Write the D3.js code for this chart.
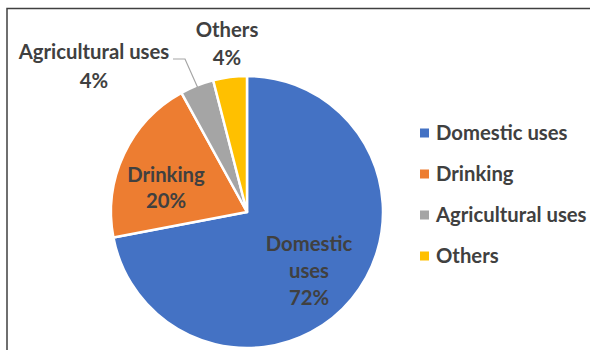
<!DOCTYPE html>
<html>
<head>
<meta charset="utf-8">
<script src="https://cdn.jsdelivr.net/npm/d3@7"></script>
<style>
  html, body { margin: 0; padding: 0; background: #fff; }
  svg { display: block; }
  text { font-family: Lato, "Open Sans", sans-serif; font-weight: 700; fill: #404040; }
</style>
</head>
<body>
<svg id="chart" width="590" height="350"></svg>
<script>
// Water use shares
const categories = ["Domestic uses", "Drinking", "Agricultural uses", "Others"];
const shares = [72, 20, 4, 4];
const colors = ["#4472C4", "#ED7D31", "#A5A5A5", "#FFC000"];

const W = 590, H = 350;
const cx = 247, cy = 212, R = 136;
const fontSize = 20.3;

const svg = d3.select("#chart");

// chart frame (continues past the window edges)
svg.append("rect")
  .attr("x", 7).attr("y", 8.5)
  .attr("width", 700).attr("height", 500)
  .attr("fill", "none").attr("stroke", "#404040").attr("stroke-width", 1.5);

const data = categories.map((c, i) => ({ name: c, value: shares[i], color: colors[i] }));
const pie = d3.pie().value(d => d.value).sort(null);
const arcs = pie(data);
const arc = d3.arc().innerRadius(0).outerRadius(R);

const g = svg.append("g").attr("transform", `translate(${cx},${cy})`);
g.selectAll("path.slice")
  .data(arcs)
  .join("path")
  .attr("class", "slice")
  .attr("d", arc)
  .attr("fill", d => d.data.color)
  .attr("stroke", "#fff")
  .attr("stroke-width", 2.5)
  .attr("stroke-linejoin", "round");

// data labels: text lines, centre x and first baseline
const pct = d => `${d.data.value}%`;
const labelSpec = [
  { lines: ["Domestic", "uses"], x: 309, y: 251, gap: 27 },
  { lines: ["Drinking"], x: 166, y: 182, gap: 26 },
  { lines: ["Agricultural uses"], x: 94, y: 59, gap: 29 },
  { lines: ["Others"], x: 227, y: 37, gap: 28 }
];

arcs.forEach((a, i) => {
  const s = labelSpec[i];
  const t = svg.append("text")
    .attr("text-anchor", "middle")
    .attr("font-size", fontSize);
  s.lines.concat([pct(a)]).forEach((ln, k) => {
    t.append("tspan").attr("x", s.x).attr("y", s.y + k * s.gap).text(ln);
  });
});

// leader line for the agricultural slice
const agri = arcs[2];
const mid = (agri.startAngle + agri.endAngle) / 2;
const edge = [cx + Math.sin(mid) * (R - 2), cy - Math.cos(mid) * (R - 2)];
svg.append("polyline")
  .attr("points", [[173, 59], [185, 59], edge].map(p => p.join(",")).join(" "))
  .attr("fill", "none")
  .attr("stroke", "#A6A6A6")
  .attr("stroke-width", 1.2);

// legend
const legend = svg.append("g");
const ly = d3.scalePoint().domain(categories).range([133, 256]);
const rows = legend.selectAll("g.row").data(data).join("g")
  .attr("class", "row")
  .attr("transform", d => `translate(420,${ly(d.name)})`);
rows.append("rect")
  .attr("x", 0).attr("y", -4.5).attr("width", 9).attr("height", 9)
  .attr("fill", d => d.color);
rows.append("text")
  .attr("x", 16).attr("y", 6.5)
  .attr("font-size", fontSize)
  .text(d => d.name);
</script>
</body>
</html>
